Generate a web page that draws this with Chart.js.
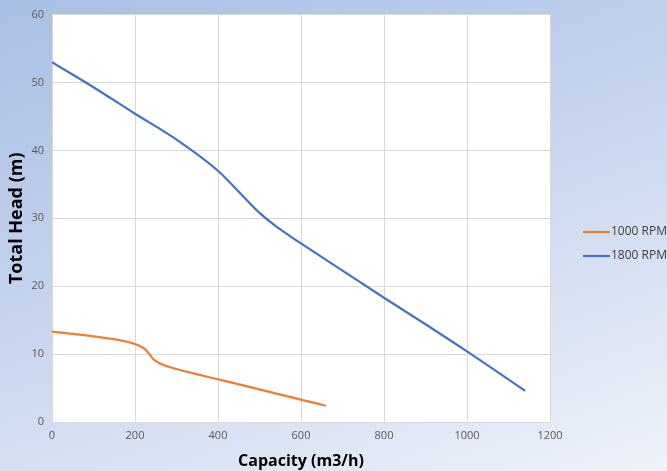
<!DOCTYPE html>
<html>
<head>
<meta charset="utf-8">
<script src="https://cdn.jsdelivr.net/npm/chart.js@4/dist/chart.umd.min.js"></script>
<style>
    html, body {
        margin: 0;
        padding: 0;
        width: 667px;
        height: 471px;
        overflow: hidden;
    }
    body {
        background: linear-gradient(160deg, #aabfe5 0%, #c2d1ec 40%, #dbe4f4 75%, #eef2fa 100%);
    }
    #wrap {
        position: relative;
        width: 667px;
        height: 471px;
    }
</style>
</head>
<body>
<div id="wrap"><canvas id="chart"></canvas></div>
<script>
// Curva da bomba
const rpm1000X = [0, 100, 200, 225, 245, 265, 300, 400, 500, 600, 660];
const rpm1000Y = [13.3, 12.6, 11.5, 10.7, 9.2, 8.5, 7.8, 6.3, 4.8, 3.3, 2.4];

const rpm1800X = [0, 100, 200, 300, 400, 450, 500, 540, 600, 700, 800, 900, 1000, 1140];
const rpm1800Y = [53, 49.3, 45.4, 41.6, 37.0, 33.9, 30.8, 28.8, 26.3, 22.3, 18.3, 14.4, 10.4, 4.6];

const seriesNames = ['1000 RPM', '1800 RPM'];
const seriesColors = ['#ed7d31', '#4472c4'];

const xTicks = [0, 200, 400, 600, 800, 1000, 1200];
const yTicks = [0, 10, 20, 30, 40, 50, 60];

function toPoints(xs, ys) {
    return xs.map((x, i) => ({ x: x, y: ys[i] }));
}

// fundo branco da área de plotagem
const plotBg = {
    id: 'plotBg',
    beforeDraw(chart) {
        const a = chart.chartArea;
        const ctx = chart.ctx;
        ctx.save();
        ctx.fillStyle = '#ffffff';
        ctx.fillRect(a.left, a.top, a.right - a.left, a.bottom - a.top);
        ctx.restore();
    }
};

// legenda à direita, como no Excel
const sideLegend = {
    id: 'sideLegend',
    afterDraw(chart) {
        const ctx = chart.ctx;
        ctx.save();
        ctx.font = '12px "Open Sans", sans-serif';
        ctx.textBaseline = 'middle';
        chart.data.datasets.forEach((ds, i) => {
            const y = 232 + i * 24;
            ctx.strokeStyle = ds.borderColor;
            ctx.lineWidth = 2.2;
            ctx.beginPath();
            ctx.moveTo(583, y);
            ctx.lineTo(610, y);
            ctx.stroke();
            ctx.fillStyle = '#404040';
            ctx.fillText(ds.label, 611, y);
        });
        ctx.restore();
    }
};

const datasets = [
    { data: toPoints(rpm1000X, rpm1000Y) },
    { data: toPoints(rpm1800X, rpm1800Y) }
].map((d, i) => ({
    label: seriesNames[i],
    data: d.data,
    borderColor: seriesColors[i],
    backgroundColor: seriesColors[i],
    borderWidth: 2.2,
    showLine: true,
    pointRadius: 0,
    cubicInterpolationMode: 'monotone',
    fill: false
}));

new Chart(document.getElementById('chart'), {
    type: 'scatter',
    data: { datasets: datasets },
    plugins: [plotBg, sideLegend],
    options: {
        responsive: true,
        maintainAspectRatio: false,
        animation: false,
        layout: {
            padding: { left: 6, right: 117, top: 14, bottom: 0 }
        },
        plugins: {
            legend: { display: false },
            tooltip: { enabled: false }
        },
        scales: {
            x: {
                type: 'linear',
                min: 0,
                max: 1200,
                afterBuildTicks(axis) {
                    axis.ticks = xTicks.map(v => ({ value: v }));
                },
                afterFit(axis) { axis.height = 49; },
                grid: { color: '#d9d9d9', lineWidth: 1, drawTicks: false },
                border: { display: true, color: '#d9d9d9' },
                ticks: {
                    color: '#595959',
                    padding: 7,
                    callback: v => String(v),
                    font: { family: '"Open Sans", sans-serif', size: 11 }
                },
                title: {
                    display: true,
                    text: 'Capacity (m3/h)',
                    color: '#000000',
                    padding: { top: 2, bottom: 0 },
                    font: { family: '"Open Sans", sans-serif', size: 16, weight: 'bold' }
                }
            },
            y: {
                type: 'linear',
                min: 0,
                max: 60,
                afterBuildTicks(axis) {
                    axis.ticks = yTicks.map(v => ({ value: v }));
                },
                afterFit(axis) { axis.width = 46; },
                grid: { color: '#d9d9d9', lineWidth: 1, drawTicks: false },
                border: { display: true, color: '#d9d9d9' },
                ticks: {
                    color: '#595959',
                    padding: 8,
                    callback: v => String(v),
                    font: { family: '"Open Sans", sans-serif', size: 11 }
                },
                title: {
                    display: true,
                    text: 'Total Head (m)',
                    color: '#000000',
                    padding: { top: 0, bottom: 4 },
                    font: { family: '"Open Sans", sans-serif', size: 18, weight: 'bold' }
                }
            }
        }
    }
});
</script>
</body>
</html>
